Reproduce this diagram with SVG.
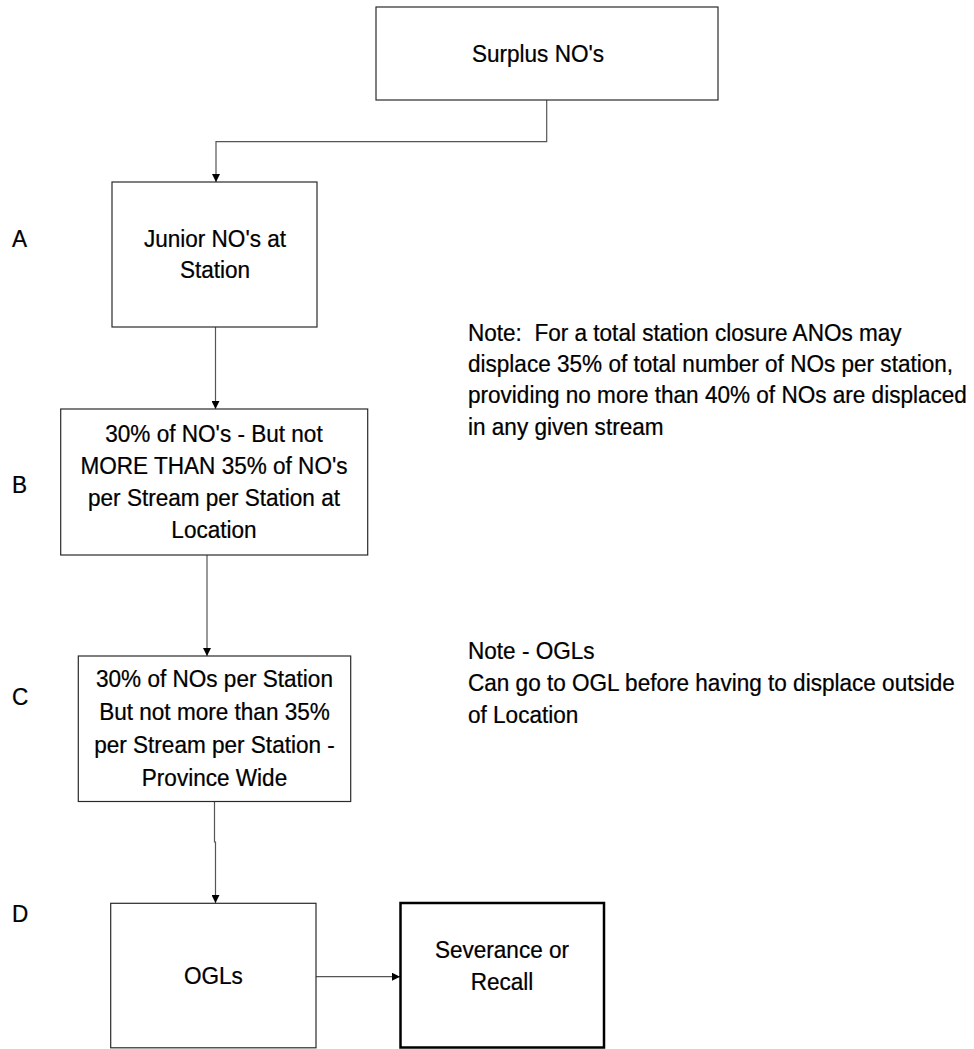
<svg xmlns="http://www.w3.org/2000/svg" width="974" height="1049" viewBox="0 0 974 1049">
<style>
  .box { fill: #ffffff; stroke: #2a2a2a; stroke-width: 1.2; }
  .thick { fill: #ffffff; stroke: #000000; stroke-width: 2.5; }
  .t { font-family: "Liberation Sans", Arial, sans-serif; font-size: 24px; fill: #000000; stroke: #000000; stroke-width: 0.25; }
  .c { text-anchor: middle; }
  .conn { fill: none; stroke: #555555; stroke-width: 1.2; }
</style>
<defs>
  <marker id="arr" viewBox="0 0 10 10" refX="10" refY="5" markerWidth="8" markerHeight="8" markerUnits="userSpaceOnUse" orient="auto">
    <path d="M0,0 L10,5 L0,10 Z" fill="#000000"/>
  </marker>
</defs>
<rect width="974" height="1049" fill="#ffffff"/>

<g id="connectors">
  <path class="conn" d="M546.7,100 V141.7 H216 V182" marker-end="url(#arr)"/>
  <path class="conn" d="M215.5,327 V409" marker-end="url(#arr)"/>
  <path class="conn" d="M207,555 V656" marker-end="url(#arr)"/>
  <path class="conn" d="M214.5,801 V842 H215.5 V903" marker-end="url(#arr)"/>
  <path class="conn" d="M316,976.7 H400" marker-end="url(#arr)"/>
</g>

<g id="node-surplus">
  <rect class="box" x="376" y="7" width="342" height="93"/>
  <text class="t c" transform="scale(0.94,1)" x="572.34" y="62">Surplus NO's</text>
</g>

<g id="node-junior">
  <rect class="box" x="112" y="182" width="205" height="145"/>
  <text class="t c" transform="scale(0.94,1)" x="228.72" y="247">Junior NO's at</text>
  <text class="t c" transform="scale(0.94,1)" x="228.72" y="278">Station</text>
</g>

<g id="node-b">
  <rect class="box" x="60.7" y="409" width="307" height="146"/>
  <text class="t c" transform="scale(0.94,1)" x="227.66" y="442">30% of NO's - But not</text>
  <text class="t c" transform="scale(0.94,1)" x="227.66" y="474">MORE THAN 35% of NO's</text>
  <text class="t c" transform="scale(0.94,1)" x="227.66" y="506">per Stream per Station at</text>
  <text class="t c" transform="scale(0.94,1)" x="227.66" y="538">Location</text>
</g>

<g id="node-c">
  <rect class="box" x="78.3" y="656" width="272.4" height="145.5"/>
  <text class="t c" transform="scale(0.94,1)" x="228.19" y="687">30% of NOs per Station</text>
  <text class="t c" transform="scale(0.94,1)" x="228.19" y="720">But not more than 35%</text>
  <text class="t c" transform="scale(0.94,1)" x="228.19" y="753">per Stream per Station -</text>
  <text class="t c" transform="scale(0.94,1)" x="228.19" y="786">Province Wide</text>
</g>

<g id="node-ogls">
  <rect class="box" x="110.7" y="903.3" width="205.3" height="144.5"/>
  <text class="t c" transform="scale(0.94,1)" x="227.02" y="984">OGLs</text>
</g>

<g id="node-severance">
  <rect class="thick" x="400.5" y="903" width="203.5" height="144.5"/>
  <text class="t c" transform="scale(0.94,1)" x="534.04" y="958">Severance or</text>
  <text class="t c" transform="scale(0.94,1)" x="534.04" y="990">Recall</text>
</g>

<g id="labels">
  <text class="t" transform="scale(0.94,1)" x="12.77" y="247">A</text>
  <text class="t" transform="scale(0.94,1)" x="12.77" y="493">B</text>
  <text class="t" transform="scale(0.94,1)" x="12.77" y="705">C</text>
  <text class="t" transform="scale(0.94,1)" x="12.77" y="922">D</text>
</g>

<g id="notes">
  <text class="t" transform="scale(0.94,1)" x="497.87" y="341" xml:space="preserve">Note:  For a total station closure ANOs may</text>
  <text class="t" transform="scale(0.94,1)" x="497.87" y="372">displace 35% of total number of NOs per station,</text>
  <text class="t" transform="scale(0.94,1)" x="497.87" y="403">providing no more than 40% of NOs are displaced</text>
  <text class="t" transform="scale(0.94,1)" x="497.87" y="435">in any given stream</text>
  <text class="t" transform="scale(0.94,1)" x="497.87" y="659">Note - OGLs</text>
  <text class="t" transform="scale(0.94,1)" x="497.87" y="691">Can go to OGL before having to displace outside</text>
  <text class="t" transform="scale(0.94,1)" x="497.87" y="723">of Location</text>
</g>
</svg>
